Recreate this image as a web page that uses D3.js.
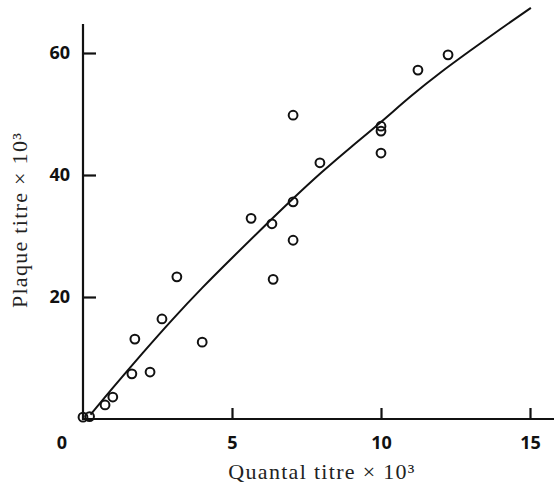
<!DOCTYPE html>
<html>
<head>
<meta charset="utf-8">
<script src="https://cdn.jsdelivr.net/npm/d3@7"></script>
<style>
  html, body { margin: 0; padding: 0; background: #fff; }
  svg { display: block; }
  .tick text { font-family: "Open Sans", "DejaVu Sans", sans-serif; font-weight: 700; font-size: 18px; fill: #111; }
  .title { font-family: "Liberation Serif", "DejaVu Serif", serif; font-size: 22px; letter-spacing: 1.3px; fill: #222; }
</style>
</head>
<body>
<svg id="chart" width="554" height="486"></svg>
<script>
// Observed titres (×10³): quantal assay vs plaque assay
const quantal = [0.0, 0.22, 0.74, 1.0, 1.64, 1.74, 2.25, 2.65, 3.15, 4.0, 5.64, 6.34, 6.38, 7.05, 7.05, 7.05, 7.95, 10.0, 10.0, 10.0, 11.24, 12.25];
const plaque  = [0.3, 0.4, 2.3, 3.6, 7.4, 13.1, 7.7, 16.4, 23.3, 12.6, 32.9, 32.0, 22.9, 49.8, 35.6, 29.3, 42.0, 48.0, 47.2, 43.6, 57.2, 59.7];

// Fitted relationship
const fitX = [0.25, 1, 2, 3, 4, 5, 6, 7, 8, 9, 10, 11, 12, 13, 14, 15.03];
const fitY = [0.7, 5.1, 10.8, 16.3, 21.5, 26.4, 31.2, 35.9, 40.4, 44.6, 48.7, 52.9, 56.8, 60.4, 63.9, 67.4];

// Axis ticks
const xTicks = [5, 10, 15];
const yTicks = [20, 40, 60];
const originLabel = "0";
const xTitle = "Quantal titre × 10³";
const yTitle = "Plaque titre × 10³";

const svg = d3.select("#chart");
const W = 554, H = 486;
const m = { left: 83, bottom: 419, right: 530, top: 53, axisTop: 24 };

const x = d3.scaleLinear().domain([0, 15]).range([m.left, m.right]);
const y = d3.scaleLinear().domain([0, 60]).range([m.bottom, m.top]);

// Axis lines
svg.append("line")
  .attr("x1", m.left).attr("x2", m.left).attr("y1", m.bottom + 1).attr("y2", m.axisTop)
  .attr("stroke", "#111").attr("stroke-width", 2.2);
svg.append("line")
  .attr("x1", m.left - 1).attr("x2", W).attr("y1", m.bottom).attr("y2", m.bottom)
  .attr("stroke", "#111").attr("stroke-width", 2.2);

// Y axis ticks pointing inward
const yAxis = svg.append("g")
  .attr("transform", `translate(${m.left},0)`)
  .call(d3.axisLeft(y).tickValues(yTicks).tickSize(-13).tickPadding(13).tickFormat(d3.format("d")));
yAxis.select(".domain").remove();
yAxis.selectAll(".tick line").attr("stroke", "#111").attr("stroke-width", 2.2);

// X axis ticks pointing inward
const xAxis = svg.append("g")
  .attr("transform", `translate(0,${m.bottom})`)
  .call(d3.axisBottom(x).tickValues(xTicks).tickSize(-11).tickPadding(17).tickFormat(d3.format("d")));
xAxis.select(".domain").remove();
xAxis.selectAll(".tick line").attr("stroke", "#111").attr("stroke-width", 2.2);

// Origin label
svg.append("text")
  .attr("x", m.left - 21).attr("y", m.bottom + 30)
  .attr("text-anchor", "middle")
  .style("font-family", "'Open Sans', 'DejaVu Sans', sans-serif")
  .style("font-weight", 700).style("font-size", "18px").style("fill", "#111")
  .text(originLabel);

// Fitted curve
const line = d3.line()
  .x((d, i) => x(fitX[i]))
  .y(d => y(d))
  .curve(d3.curveNatural);
svg.append("path")
  .attr("d", line(fitY))
  .attr("fill", "none")
  .attr("stroke", "#111")
  .attr("stroke-width", 2);

// Observations as open circles
svg.append("g").selectAll("circle")
  .data(quantal)
  .join("circle")
  .attr("cx", d => x(d))
  .attr("cy", (d, i) => y(plaque[i]))
  .attr("r", 4.4)
  .attr("fill", "none")
  .attr("stroke", "#111")
  .attr("stroke-width", 2);

// Axis titles
svg.append("text")
  .attr("class", "title")
  .attr("x", 322).attr("y", 479)
  .attr("text-anchor", "middle")
  .text(xTitle);

svg.append("text")
  .attr("class", "title")
  .attr("transform", `translate(27,220) rotate(-90)`)
  .attr("text-anchor", "middle")
  .text(yTitle);
</script>
</body>
</html>
